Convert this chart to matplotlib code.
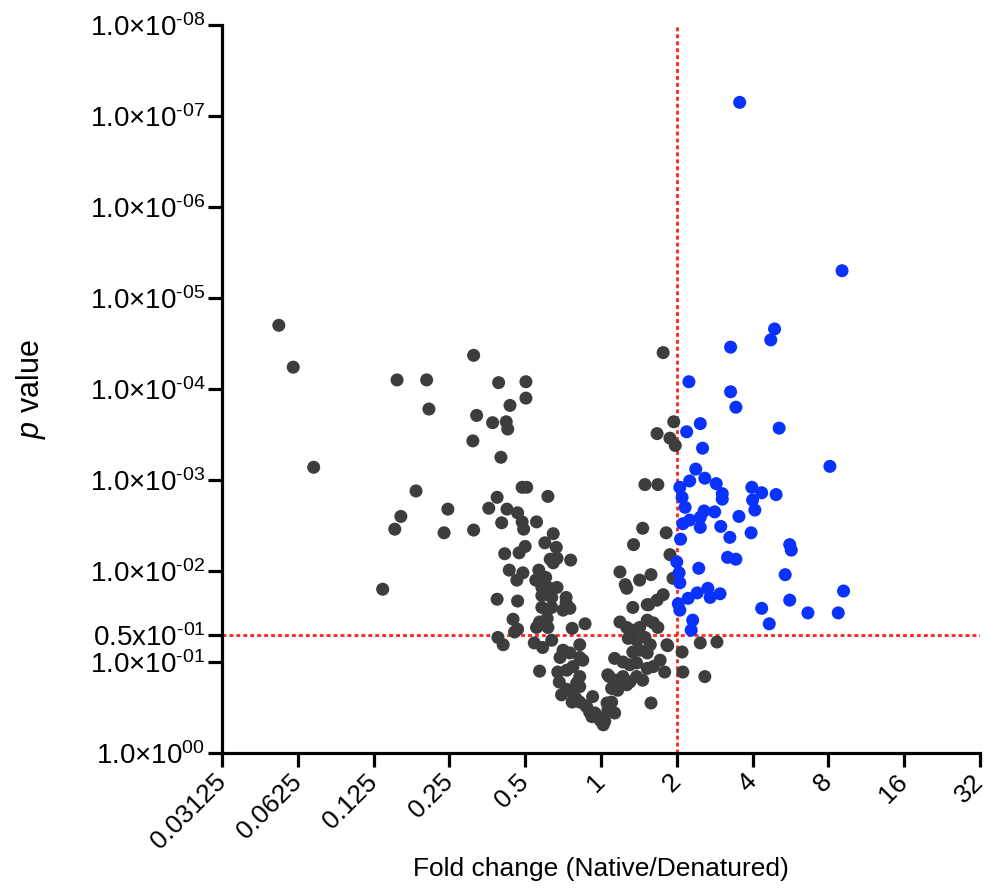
import numpy as np
import matplotlib
matplotlib.use("Agg")
import matplotlib.pyplot as plt
from matplotlib.ticker import NullLocator

plt.rcParams['font.family'] = 'Liberation Sans'
plt.rcParams['mathtext.fontset'] = 'custom'
plt.rcParams['mathtext.rm'] = 'Liberation Sans'
plt.rcParams['mathtext.it'] = 'Liberation Sans:italic'

# log2 fold change and -log10 p, not significant (grey)
ns_log2fc = [-4.25, -4.06, -3.79, -2.88, -2.69, -2.30, -2.27, -2.44, -2.64, -2.72,
             -2.02, -2.07, -1.68, -1.35, -0.99, -0.99, -1.20, -1.64, -1.43, -1.25,
             -1.23, -1.69, -1.32, -1.04, -0.98, -0.70, -1.37, -1.48, -1.24, -1.10,
             -1.04, -1.02, -0.85, -1.31, -1.68, -0.63, -0.74, -1.00, -1.08, -0.59,
             -1.27, -0.67, -0.58, -0.63, -0.40, -1.21, -1.03, -1.11, -0.82, -0.86,
             -0.73, -0.78, -0.67, -0.58, -1.37, -1.10, -0.78, -0.65, -0.46, -0.46,
             -0.78, -0.65, -0.41, -0.50, -1.16, -1.10, -1.14, -0.81, -0.71, -0.70,
             -0.85, -0.38, -0.21, -1.36, -1.29, -0.88, -0.77, -0.65, -0.28, -0.81,
             -0.50, -0.41, -0.54, -0.28, -0.24, -0.57, -0.45, -0.37, -0.28, -0.52,
             -0.38, -0.32, -0.28, -0.38, -0.28, -0.19, -0.11, -0.15, -0.08, -0.01,
             0.03, -0.05, 0.09, 0.14, 0.18, 0.08, 0.25, 0.32, 0.34, 0.43,
             0.55, 0.51, 0.66, 0.86, 0.42, 0.61, 0.74, 0.82, 0.25, 0.34,
             0.42, 0.51, 0.61, 0.69, 0.75, 0.36, 0.47, 0.58, 0.65, 0.51,
             0.42, 0.61, 0.88, 0.18, 0.29, 0.38, 0.47, 0.61, 0.69, 0.78,
             0.84, 0.09, 0.21, 0.29, 0.38, 0.47, 0.55, 0.14, 0.22, 0.34,
             0.66, 0.82, 0.96, 0.74, 0.91, 0.98, 0.58, 0.75, 0.91, 0.95,
             0.87, 1.07, 1.31, 1.53, 1.08, 1.37, 0.11, 0.63,
             -0.55, -0.45, -0.33, -0.20, -0.12, 0.05]
ns_nlogp = [4.70, 4.24, 3.14, 1.80, 4.10, 4.10, 3.78, 2.88, 2.60, 2.46,
            2.68, 2.42, 4.37, 4.07, 4.08, 3.90, 3.82, 3.71, 3.63, 3.64,
            3.56, 3.43, 3.25, 2.92, 2.92, 2.82, 2.81, 2.69, 2.68, 2.64,
            2.54, 2.46, 2.54, 2.53, 2.45, 2.41, 2.31, 2.27, 2.20, 2.26,
            2.19, 2.13, 2.14, 2.09, 2.12, 2.01, 1.98, 1.90, 2.01, 1.90,
            1.93, 1.82, 1.81, 1.82, 1.69, 1.67, 1.73, 1.71, 1.71, 1.65,
            1.60, 1.60, 1.59, 1.57, 1.47, 1.36, 1.33, 1.44, 1.48, 1.38,
            1.38, 1.37, 1.42, 1.27, 1.19, 1.21, 1.16, 1.24, 1.19, 0.90,
            1.13, 1.10, 1.05, 1.05, 1.02, 0.89, 0.91, 0.95, 0.84, 0.64,
            0.67, 0.77, 0.73, 0.56, 0.56, 0.51, 0.62, 0.45, 0.44, 0.36,
            0.31, 0.40, 0.47, 0.56, 0.44, 0.55, 1.99, 1.85, 1.81, 2.29,
            2.47, 1.90, 1.96, 2.42, 1.60, 1.63, 1.68, 1.74, 1.44, 1.38,
            1.35, 1.38, 1.46, 1.43, 1.38, 1.26, 1.24, 1.27, 1.19, 1.13,
            1.11, 1.10, 1.18, 1.04, 1.00, 0.97, 0.99, 0.93, 0.95, 1.02,
            0.89, 0.86, 0.80, 0.84, 0.78, 0.84, 0.80, 0.71, 0.69, 0.75,
            0.55, 4.40, 3.64, 3.51, 3.46, 3.38, 2.95, 2.95, 2.18, 1.92,
            1.19, 1.11, 1.21, 1.22, 0.89, 0.84, 0.84, 1.63,
            0.78, 0.70, 0.60, 0.52, 0.40, 0.35]

# significant, fold change >= 2 (blue)
sig_log2fc = [1.83, 3.18, 2.29, 2.24, 1.71, 1.16, 1.71, 1.78, 2.35, 3.02,
              1.13, 1.31, 1.34, 1.25, 1.17, 1.37, 1.52, 1.60, 1.60, 1.04,
              1.07, 1.11, 1.50, 1.36, 1.31, 1.17, 1.08, 1.31, 1.58, 1.82,
              1.99, 2.12, 2.00, 2.03, 2.31, 1.98, 1.70, 1.05, 2.49, 2.51,
              1.67, 1.78, 1.00, 1.03, 1.04, 1.29, 2.43, 3.20, 1.27, 1.41,
              1.44, 1.57, 1.15, 1.02, 1.04, 2.49, 2.12, 2.73, 3.13, 2.22,
              1.21, 1.19]
sig_nlogp = [7.15, 5.30, 4.66, 4.54, 4.46, 4.08, 3.97, 3.80, 3.57, 3.15,
             3.53, 3.62, 3.35, 3.12, 2.99, 3.02, 2.96, 2.85, 2.79, 2.92,
             2.81, 2.70, 2.65, 2.66, 2.59, 2.56, 2.52, 2.48, 2.49, 2.60,
             2.92, 2.86, 2.78, 2.67, 2.84, 2.42, 2.37, 2.35, 2.29, 2.23,
             2.15, 2.13, 2.10, 1.98, 1.87, 2.03, 1.96, 1.78, 1.76, 1.81,
             1.71, 1.75, 1.70, 1.64, 1.57, 1.68, 1.59, 1.54, 1.54, 1.42,
             1.46, 1.35]

x_ticks = [0.03125, 0.0625, 0.125, 0.25, 0.5, 1, 2, 4, 8, 16, 32]
x_labels = ['0.03125', '0.0625', '0.125', '0.25', '0.5', '1', '2', '4', '8', '16', '32']
y_ticks = [1, 0.1, 0.05, 1e-2, 1e-3, 1e-4, 1e-5, 1e-6, 1e-7, 1e-8]
y_labels = [r'1.0×10$^{\text{00}}$', r'1.0×10$^{\text{-01}}$', r'0.5x10$^{\text{-01}}$',
            r'1.0×10$^{\text{-02}}$', r'1.0×10$^{\text{-03}}$', r'1.0×10$^{\text{-04}}$',
            r'1.0×10$^{\text{-05}}$', r'1.0×10$^{\text{-06}}$', r'1.0×10$^{\text{-07}}$',
            r'1.0×10$^{\text{-08}}$']

ns_fold = 2.0 ** np.array(ns_log2fc)
ns_p = 10.0 ** -np.array(ns_nlogp)
sig_fold = 2.0 ** np.array(sig_log2fc)
sig_p = 10.0 ** -np.array(sig_nlogp)

fig = plt.figure(figsize=(9.9, 8.9), dpi=100)
ax = fig.add_axes([0.2242, 0.1539, 0.7657, 0.818])

ax.axvline(2, color='#ff2020', lw=2, ls=(0, (1.4, 1.1)), zorder=1)
ax.axhline(0.05, color='#ff2020', lw=2, ls=(0, (1.4, 1.1)), zorder=1)

ax.scatter(ns_fold, ns_p, s=88, color='#3d3d3d', edgecolors='none', zorder=3)
ax.scatter(sig_fold, sig_p, s=88, color='#0a32ff', edgecolors='none', zorder=3)

ax.set_xscale('log', base=2)
ax.set_yscale('log')
ax.set_xlim(2 ** -5, 2 ** 5)
ax.set_ylim(1, 1e-8)

ax.set_xticks(x_ticks)
ax.set_xticklabels(x_labels, rotation=45, ha='right', va='center', rotation_mode='anchor')
ax.set_yticks(y_ticks)
ax.set_yticklabels(y_labels)
ax.xaxis.set_minor_locator(NullLocator())
ax.yaxis.set_minor_locator(NullLocator())

for s in ['top', 'right']:
    ax.spines[s].set_visible(False)
for s in ['left', 'bottom']:
    ax.spines[s].set_linewidth(2.3)
ax.tick_params(length=10, width=2.3, labelsize=19, pad=2)
ax.tick_params(axis='y', labelsize=20)
ax.tick_params(axis='x', pad=8)

ax.set_xlabel('Fold change (Native/Denatured)', fontsize=19, labelpad=2)
ax.set_ylabel('$p$ value', fontsize=22, labelpad=30)

fig.savefig('out.png', dpi=100)
